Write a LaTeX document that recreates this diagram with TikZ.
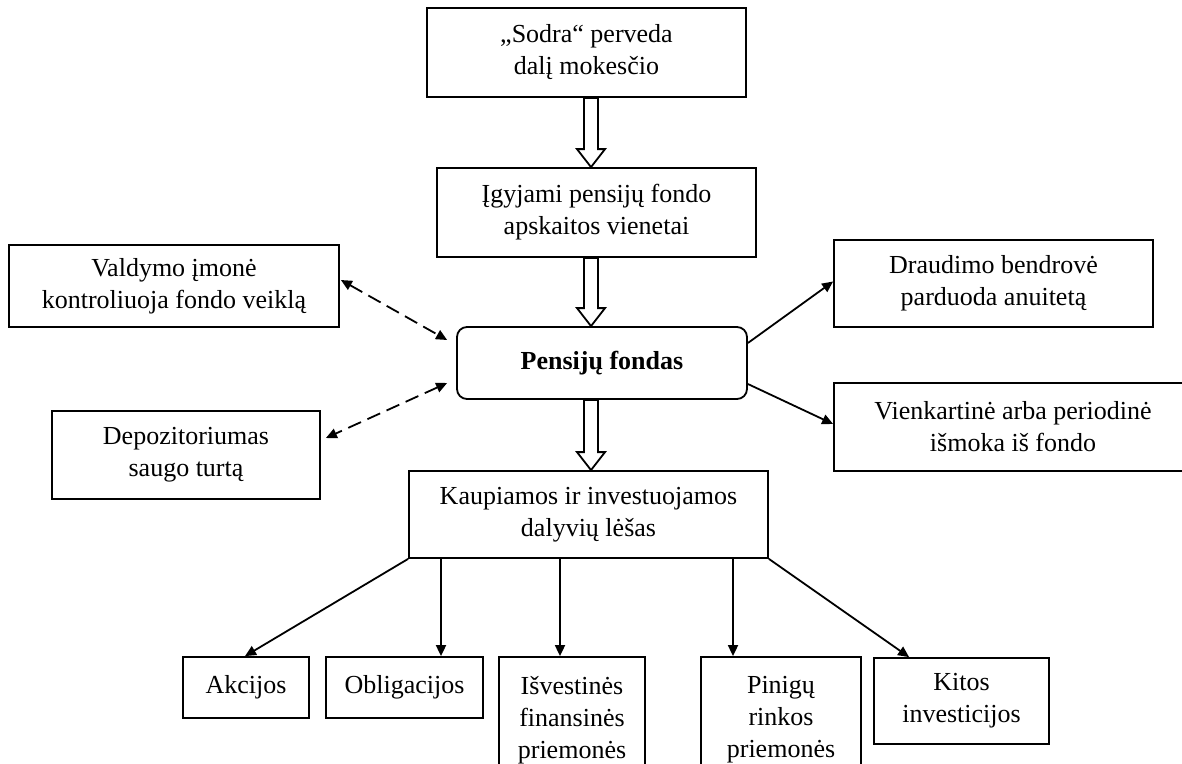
\documentclass[tikz,border=0pt]{standalone}
\usepackage{fontspec}
\setmainfont{Liberation Serif}
\usetikzlibrary{calc,arrows.meta}
\newcommand\blockarrow[2]{%
  \draw[hollow] ($(#1)+(-7,0)$) -- ($(#2)+(-7,-18)$) -- ($(#2)+(-14,-18)$) -- (#2)
    -- ($(#2)+(14,-18)$) -- ($(#2)+(7,-18)$) -- ($(#1)+(7,0)$) -- cycle;}
\begin{document}
\begin{tikzpicture}[x=1pt,y=-1pt,
  box/.style={draw,line width=1.8pt,inner sep=0pt,align=center,font=\fontsize{26}{32}\selectfont},
  hollow/.style={draw,line width=1.8pt,fill=white,line join=miter},
  sarrow/.style={line width=1.8pt,-{Triangle[length=11pt,width=10pt]}},
  darrow/.style={line width=1.8pt,dash pattern=on 14pt off 7pt,
    {Triangle[length=11pt,width=10pt]}-{Triangle[length=11pt,width=10pt]}}]
\useasboundingbox (0,0) rectangle (1182,763);
\clip (0,0) rectangle (1182,763);
\fill[white] (0,0) rectangle (1182,763);

\node[box,minimum width=319pt,minimum height=89pt] (sodra) at (586.5,52.5) {„Sodra“ perveda\\dalį mokesčio};
\node[box,minimum width=319pt,minimum height=89pt] (igyj) at (596.5,212.5) {Įgyjami pensijų fondo\\apskaitos vienetai};
\node[box,minimum width=290pt,minimum height=72pt,rounded corners=10pt] (pens) at (602,363) {\bfseries Pensijų fondas};
\node[box,minimum width=359pt,minimum height=87pt] (kaup) at (588.5,514.5) {Kaupiamos ir investuojamos\\dalyvių lėšas};

\node[box,minimum width=330pt,minimum height=82pt] (vald) at (174,286) {Valdymo įmonė\\kontroliuoja fondo veiklą};
\node[box,minimum width=268pt,minimum height=88pt] (depo) at (186,455) {Depozitoriumas\\saugo turtą};
\node[box,minimum width=319pt,minimum height=87pt] (drau) at (993.5,283.5) {Draudimo bendrovė\\parduoda anuitetą};
\node[box,minimum width=358pt,minimum height=88pt] (vienk) at (1013,427) {Vienkartinė arba periodinė\\išmoka iš fondo};

\node[box,minimum width=126pt,minimum height=61pt] (akc) at (246,687.5) {Akcijos};
\node[box,minimum width=157pt,minimum height=61pt] (obl) at (404.5,687.5) {Obligacijos};
\node[box,minimum width=146pt,minimum height=126pt] (isv) at (572,720) {Išvestinės\\finansinės\\priemonės};
\node[box,minimum width=160pt,minimum height=126pt] (pin) at (781,720) {Pinigų\\rinkos\\priemonės};
\node[box,minimum width=175pt,minimum height=86pt] (kit) at (961.5,701) {Kitos\\investicijos};

\coordinate (ax) at (591,0);
\coordinate (a1s) at (sodra.south -| ax);
\coordinate (a1e) at (igyj.north -| ax);
\coordinate (a2s) at (igyj.south -| ax);
\coordinate (a2e) at (pens.north -| ax);
\coordinate (a3s) at (pens.south -| ax);
\coordinate (a3e) at (kaup.north -| ax);
\blockarrow{a1s}{a1e}
\blockarrow{a2s}{a2e}
\blockarrow{a3s}{a3e}

\draw[darrow] ($(vald.east)+(1,-6)$) -- ($(pens.west)+(-9,-23)$);
\draw[darrow] ($(pens.west)+(-9,20)$) -- ($(depo.east)+(5,-17)$);

\draw[sarrow] ($(pens.east)+(0,-20)$) -- ($(drau.west)+(0,-2)$);
\draw[sarrow] ($(pens.east)+(0,21)$) -- ($(vienk.west)+(0,-3)$);

\coordinate (x2) at (441,0);
\coordinate (x3) at (560,0);
\coordinate (x4) at (733,0);
\draw[sarrow] (kaup.south west) -- ($(akc.north)+(-1,0)$);
\draw[sarrow] (kaup.south -| x2) -- (obl.north -| x2);
\draw[sarrow] (kaup.south -| x3) -- (isv.north -| x3);
\draw[sarrow] (kaup.south -| x4) -- (pin.north -| x4);
\draw[sarrow] (kaup.south east) -- ($(kit.north west)+(36,0)$);
\end{tikzpicture}
\end{document}
